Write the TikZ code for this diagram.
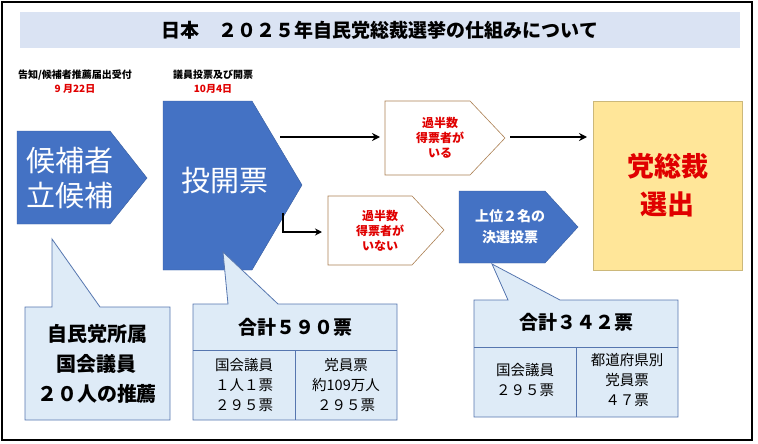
\documentclass[tikz,border=0pt]{standalone}
\usepackage{fontspec}
\setmainfont{Noto Sans CJK JP}
\usetikzlibrary{arrows.meta}
\definecolor{bl}{HTML}{4472C4}
\definecolor{lb}{HTML}{DAE3F3}
\definecolor{cb}{HTML}{DEEBF7}
\definecolor{yl}{HTML}{FFE699}
\definecolor{rd}{HTML}{E00000}
\tikzset{blue/.style={fill=bl,draw=bl!80!black},
 call/.style={fill=cb,draw=bl!70!gray,line width=0.8pt},
 outl/.style={fill=white,draw=brown!70!gray,line width=0.6pt},
 arr/.style={-{Stealth[length=8pt,width=8pt]},line width=1.8pt},
 txt/.style={align=center,inner sep=0pt}}
\begin{document}
\begin{tikzpicture}[x=1pt,y=-1pt]
\useasboundingbox (0,0) rectangle (758,444);
\draw[line width=1.2pt] (2,2) rectangle (752,440);
\node[fill=lb,minimum width=720pt,minimum height=36pt,anchor=north west,inner sep=0pt,font=\bfseries\fontsize{19}{22}\selectfont] (title) at (20,12) {日本　２０２５年自民党総裁選挙の仕組みについて};
\node[txt,font=\bfseries\fontsize{10}{12}\selectfont] (l1) at (75,75) {告知/候補者推薦届出受付};
\node[txt,font=\bfseries\fontsize{10}{12}\selectfont,text=rd] (d1) at (75,89) {9 月22日};
\node[txt,font=\bfseries\fontsize{10}{12}\selectfont] (l2) at (213,75) {議員投票及び開票};
\node[txt,font=\bfseries\fontsize{10}{12}\selectfont,text=rd] (d2) at (213,89) {10月4日};
% pentagons
\draw[blue] (17,131) -- (110,131) -- (147,178) -- (110,224) -- (17,224) -- cycle;
\node[txt,text=white,font=\fontsize{29}{35}\selectfont] (p1) at (70,178) {候補者\\立候補};
\draw[blue] (163,101) -- (252,101) -- (302,185) -- (252,270) -- (163,270) -- cycle;
\node[txt,text=white,font=\fontsize{29}{35}\selectfont] (p2) at (225,180) {投開票};
\draw[outl] (385,101) -- (470,101) -- (505,138) -- (470,175) -- (385,175) -- cycle;
\node[txt,text=rd,font=\bfseries\fontsize{12}{15}\selectfont] (b1) at (440,138) {過半数\\得票者が\\いる};
\draw[outl] (328,196) -- (412,196) -- (444,230) -- (412,265) -- (328,265) -- cycle;
\node[txt,text=rd,font=\bfseries\fontsize{12}{15}\selectfont] (b2) at (380,231) {過半数\\得票者が\\いない};
\draw[blue] (459,191) -- (545,191) -- (578,227) -- (545,263) -- (459,263) -- cycle;
\node[txt,text=white,font=\bfseries\fontsize{14}{21}\selectfont] (p3) at (510,227) {上位２名の\\決選投票};
\node[fill=yl,draw=yl!80!black,minimum width=149pt,minimum height=169pt,anchor=north west,inner sep=0pt] (res) at (593,101) {};
\node[txt,text=rd,font=\bfseries\fontsize{27}{38}\selectfont] at (res.center) {党総裁\\選出};
\coordinate (a1) at (280,137);
\coordinate (a2) at (380,137);
\coordinate (a3) at (510,137);
\coordinate (a4) at (587,137);
\draw[arr] (a1) -- (a2);
\draw[arr] (a3) -- (a4);
\coordinate (c1) at (283,213);
\coordinate (c2) at (322,232);
\draw[-{Stealth[length=7pt,width=7pt]},line width=1.8pt] (c1) |- (c2);
% callouts
\draw[call] (25,307) -- (52,307) -- (52,239) -- (100,307) -- (170,307) -- (170,420) -- (25,420) -- cycle;
\node[txt,font=\bfseries\fontsize{20}{30}\selectfont] (t1) at (97,364) {自民党所属\\国会議員\\２０人の推薦};
\draw[call] (193,304) -- (228,304) -- (223,252) -- (278,304) -- (397,304) -- (397,420) -- (193,420) -- cycle;
\draw[call] (193,350) -- (397,350) (295,350) -- (295,420);
\node[txt,font=\bfseries\fontsize{19}{22}\selectfont] (t2) at (295,327) {合計５９０票};
\node[txt,font=\fontsize{14.5}{20}\selectfont] (t3) at (244,385) {国会議員\\１人１票\\２９５票};
\node[txt,font=\fontsize{14.5}{20}\selectfont] (t4) at (346,385) {党員票\\約109万人\\２９５票};
\draw[call] (474,300) -- (508,300) -- (492,264) -- (560,300) -- (678,300) -- (678,417) -- (474,417) -- cycle;
\draw[call] (474,347) -- (678,347) (576,347) -- (576,417);
\node[txt,font=\bfseries\fontsize{19}{22}\selectfont] (t5) at (576,322) {合計３４２票};
\node[txt,font=\fontsize{14.5}{20}\selectfont] (t6) at (525,380) {国会議員\\２９５票};
\node[txt,font=\fontsize{14.5}{20}\selectfont] (t7) at (627,380) {都道府県別\\党員票\\４７票};
\end{tikzpicture}
\end{document}
